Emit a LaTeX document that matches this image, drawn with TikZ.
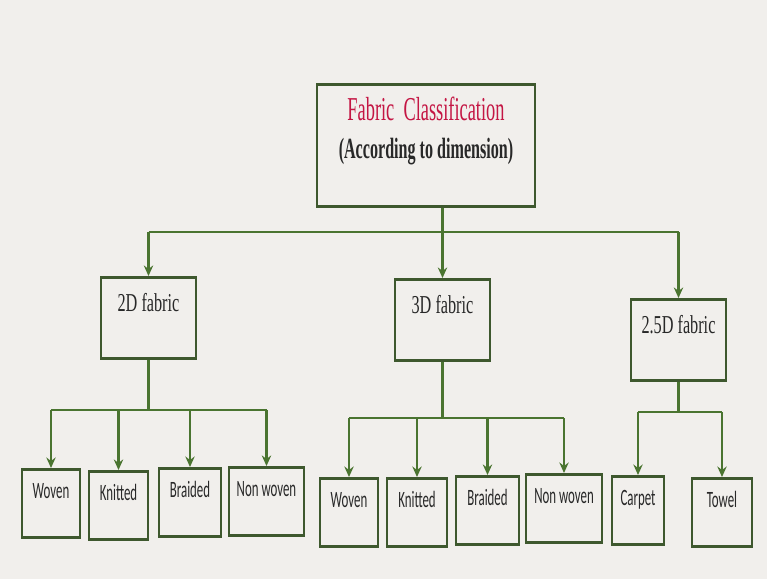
\documentclass[tikz,border=0pt]{standalone}
\usepackage{fontspec}
\usepackage{tikz}
\usetikzlibrary{arrows.meta, positioning, calc}
\newfontfamily\titlefont[FakeStretch=0.55]{Liberation Serif}
\newfontfamily\headfont[FakeStretch=0.63]{Liberation Serif}
\newfontfamily\leaffont[FakeStretch=0.55]{Carlito}
\definecolor{bgcolor}{RGB}{241,239,236}
\definecolor{boxcolor}{RGB}{62,88,46}
\definecolor{linkcolor}{RGB}{74,116,48}
\definecolor{titlecolor}{RGB}{196,22,68}
\definecolor{textcolor}{RGB}{40,40,40}

\begin{document}
\begin{tikzpicture}[
    x=0.03cm, y=-0.03cm,
    box/.style={draw=boxcolor, line width=2.4pt, inner sep=0pt, anchor=north, text=textcolor},
    kind/.style={box, minimum width=2.85cm, font=\headfont\fontsize{22}{26}\selectfont, text height=1.02cm, text depth=1.41cm},
    leaf/.style={box, font=\leaffont\fontsize{20}{22}\selectfont, text height=0.87cm, text depth=1.17cm},
    link/.style={draw=linkcolor, line width=2pt},
    arrow/.style={link, -{Stealth[length=9pt,width=8pt,inset=3pt]}}
]
    % Background
    \fill[bgcolor] (0,0) rectangle (767,579);

    % Title
    \node[box, minimum width=6.54cm, align=center, text height=2.22cm, text depth=1.44cm,
          font=\titlefont\fontsize{25}{32}\selectfont] (title) at (426,83)
        {{\color{titlecolor}\fontsize{28.5}{32}\selectfont Fabric~~Classification}\\
         {\bfseries (According to dimension)}};

    % Fabric kinds
    \node[kind] (d2) at (148.5,276) {2D fabric};
    \node[kind] (d3) at (442.5,278) {3D fabric};
    \node[kind] (d25) at (678.5,298) {2.5D fabric};

    % 2D fabrics
    \node[leaf, minimum width=1.74cm] (woven2d) at (51,468) {Woven};
    \node[leaf, minimum width=1.77cm] (knit2d) at (118.5,470) {Knitted};
    \node[leaf, minimum width=1.86cm] (braid2d) at (190,467) {Braided};
    \node[leaf, minimum width=2.25cm] (non2d) at (266.5,466) {Non woven};

    % 3D fabrics
    \node[leaf, minimum width=1.74cm] (woven3d) at (349,477) {Woven};
    \node[leaf, minimum width=1.80cm] (knit3d) at (417,477) {Knitted};
    \node[leaf, minimum width=1.89cm] (braid3d) at (487.5,475) {Braided};
    \node[leaf, minimum width=2.28cm] (non3d) at (564,473) {Non woven};

    % 2.5D fabrics
    \node[leaf, minimum width=1.56cm] (carpet) at (638,475) {Carpet};
    \node[leaf, minimum width=1.80cm] (towel) at (722,477) {Towel};

    % Bus lines
    \coordinate (bus) at (0,232);
    \coordinate (bus2d) at (0,410);
    \coordinate (bus3d) at (0,418);
    \coordinate (bus25) at (0,412);

    % Classification -> kinds
    \draw[link] (title.south -| d3) -- (d3 |- bus);
    \draw[link] (d2 |- bus) -- (d25 |- bus);
    \foreach \k in {d2, d3, d25}
        \draw[arrow] (\k |- bus) -- (\k.north);

    % 2D -> leaves
    \draw[link] (d2.south) -- (d2 |- bus2d);
    \draw[link] (woven2d |- bus2d) -- (non2d |- bus2d);
    \foreach \k in {woven2d, knit2d, braid2d, non2d}
        \draw[arrow] (\k |- bus2d) -- (\k.north);

    % 3D -> leaves
    \draw[link] (d3.south) -- (d3 |- bus3d);
    \draw[link] (woven3d |- bus3d) -- (non3d |- bus3d);
    \foreach \k in {woven3d, knit3d, braid3d, non3d}
        \draw[arrow] (\k |- bus3d) -- (\k.north);

    % 2.5D -> leaves
    \draw[link] (d25.south) -- (d25 |- bus25);
    \draw[link] (carpet |- bus25) -- (towel |- bus25);
    \foreach \k in {carpet, towel}
        \draw[arrow] (\k |- bus25) -- (\k.north);
\end{tikzpicture}
\end{document}
